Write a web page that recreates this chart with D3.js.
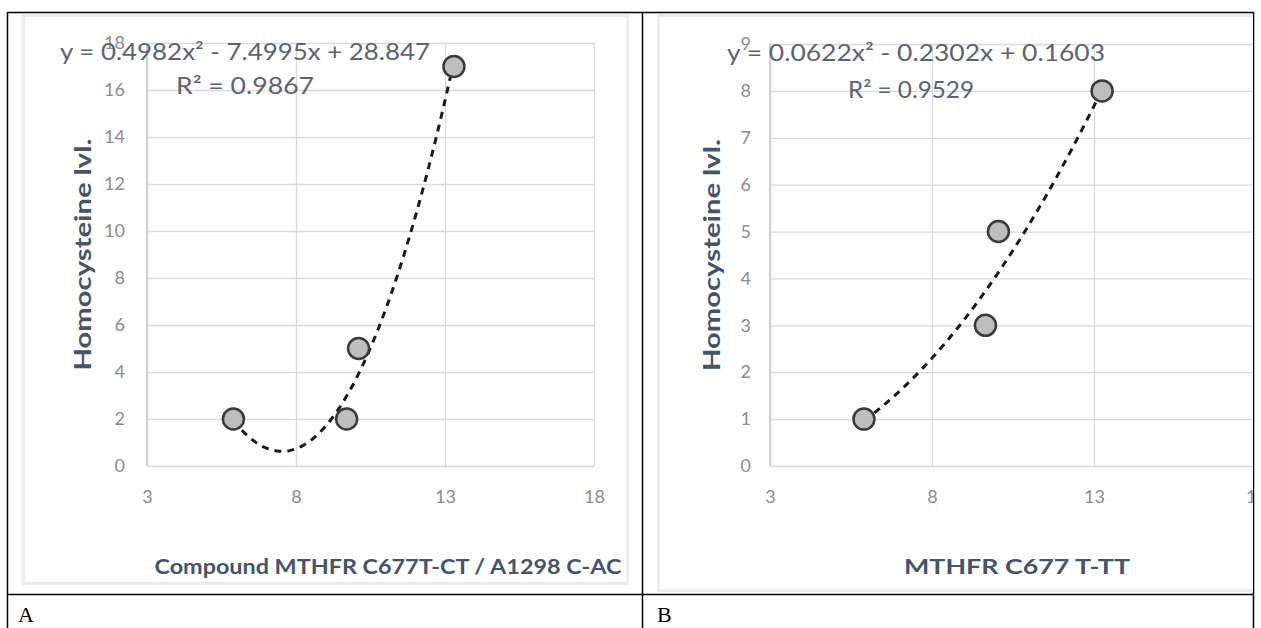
<!DOCTYPE html>
<html>
<head>
<meta charset="utf-8">
<script src="https://cdn.jsdelivr.net/npm/d3@7"></script>
<style>
  body { margin: 0; background: #fff; }
  svg { display: block; }
</style>
</head>
<body>
<svg id="chart" width="1261" height="628"></svg>
<script>
//points
const xA = [5.9, 9.7, 10.1, 13.3];
const yA = [2, 2, 5, 17];
const xB = [5.9, 9.65, 10.05, 13.25];
const yB = [1, 3, 5, 8];
//polynomial trend line coefficients as printed (a, b, c)
const coefA = [0.4982, -7.4995, 28.847];
const coefB = [0.0622, -0.2302, 0.1603];
const r2A = "0.9867";
const r2B = "0.9529";
//tick labels
const xTicks = [3, 8, 13, 18];
const yTicksA = [0, 2, 4, 6, 8, 10, 12, 14, 16, 18];
const yTicksB = [0, 1, 2, 3, 4, 5, 6, 7, 8, 9];
const xTitleA = "Compound MTHFR C677T-CT / A1298 C-AC";
const xTitleB = "MTHFR C677 T-TT";
const yTitle = "Homocysteine lvl.";
const panelLabels = ["A", "B"];

const svg = d3.select("#chart");
const FONT = "Lato, 'Open Sans', sans-serif";

//table frame
const frame = svg.append("g").attr("stroke", "#000").attr("stroke-width", 1.5);
frame.append("line").attr("x1", 7.5).attr("x2", 1253.5).attr("y1", 12.5).attr("y2", 12.5);
frame.append("line").attr("x1", 7.5).attr("x2", 1253.5).attr("y1", 594.5).attr("y2", 594.5);
frame.append("line").attr("x1", 7.5).attr("x2", 7.5).attr("y1", 12).attr("y2", 628);
frame.append("line").attr("x1", 642.5).attr("x2", 642.5).attr("y1", 12).attr("y2", 628);
frame.append("line").attr("x1", 1253.5).attr("x2", 1253.5).attr("y1", 12).attr("y2", 628);

svg.selectAll("text.panel")
    .data(panelLabels)
    .enter()
    .append("text")
    .attr("class", "panel")
    .attr("x", (d, i) => i == 0 ? 18 : 657)
    .attr("y", 622)
    .style("font-family", "'Liberation Serif', 'DejaVu Serif', serif")
    .style("font-size", "22px")
    .style("fill", "#000")
    .text(d => d);

drawPanel({
    id: "A",
    box: [22, 14, 629, 585],
    clipRight: 629,
    xRange: [147, 594],
    yDomain: [0, 18],
    yRange: [466, 43],
    yTicks: yTicksA,
    xs: xA, ys: yA, coef: coefA, r2: r2A,
    yLabelX: 125,
    yTitleX: 83,
    xTitle: xTitleA, xTitleX: 388, xTitleLen: 467,
    eqX: 60, eqY: 52, eqLen: 370,
    r2X: 176, r2Y: 86, r2Len: 138
});

drawPanel({
    id: "B",
    box: [657, 14, 1260, 592],
    clipRight: 1253,
    xRange: [770, 1256],
    yDomain: [0, 9],
    yRange: [466, 44],
    yTicks: yTicksB,
    xs: xB, ys: yB, coef: coefB, r2: r2B,
    yLabelX: 751,
    yTitleX: 712,
    xTitle: xTitleB, xTitleX: 1017, xTitleLen: 226,
    eqX: 727, eqY: 53, eqLen: 378,
    r2X: 848, r2Y: 90, r2Len: 126
});

function fmtEq(c){
    let s = "y = " + c[0] + "x² ";
    s += (c[1] < 0 ? "- " : "+ ") + Math.abs(c[1]) + "x ";
    s += (c[2] < 0 ? "- " : "+ ") + Math.abs(c[2]);
    return s;
}

function drawPanel(p){
    const clipId = "clip" + p.id;
    svg.append("clipPath").attr("id", clipId)
        .append("rect")
        .attr("x", p.box[0]).attr("y", p.box[1])
        .attr("width", p.clipRight - p.box[0]).attr("height", p.box[3] - p.box[1]);

    const g = svg.append("g").attr("clip-path", "url(#" + clipId + ")");

    //chart area background
    g.append("rect")
        .attr("x", p.box[0] + 1.5).attr("y", p.box[1] + 1.5)
        .attr("width", p.box[2] - p.box[0] - 3).attr("height", p.box[3] - p.box[1] - 3)
        .style("fill", "#fff")
        .style("stroke", "#ececec")
        .style("stroke-width", 3);

    const x = d3.scaleLinear().domain([3, 18]).range(p.xRange);
    const y = d3.scaleLinear().domain(p.yDomain).range(p.yRange);
    const w = p.xRange[1] - p.xRange[0];
    const h = p.yRange[0] - p.yRange[1];

    //gridlines + tick labels
    const gy = g.append("g")
        .attr("transform", "translate(" + p.xRange[0] + ",0)")
        .call(d3.axisLeft(y).tickValues(p.yTicks).tickSize(-w).tickPadding(p.xRange[0] - p.yLabelX).tickFormat(d3.format("d")));
    const gx = g.append("g")
        .attr("transform", "translate(0," + p.yRange[0] + ")")
        .call(d3.axisBottom(x).tickValues(xTicks).tickSize(-h).tickPadding(22).tickFormat(d3.format("d")));

    [gx, gy].forEach(ax => {
        ax.select(".domain").remove();
        ax.selectAll("line").style("stroke", "#d9d9d9").style("stroke-width", 1.3);
        ax.selectAll("text")
            .style("font-family", FONT)
            .style("font-size", "18px")
            .style("fill", "#8c8c8c");
    });
    gx.selectAll("text").attr("dy", "0.35em").attr("y", 31);
    //value axis line
    g.append("line")
        .attr("x1", p.xRange[0]).attr("x2", p.xRange[0])
        .attr("y1", p.yRange[1]).attr("y2", p.yRange[0])
        .style("stroke", "#c6c9d2").style("stroke-width", 1.5);

    //axis titles
    g.append("text")
        .attr("transform", "translate(" + (p.yTitleX + 8) + "," + ((p.yRange[0] + p.yRange[1]) / 2 + 116) + ")rotate(-90)")
        .attr("textLength", 232)
        .attr("lengthAdjust", "spacingAndGlyphs")
        .style("font-family", FONT)
        .style("font-weight", "bold")
        .style("font-size", "22px")
        .style("fill", "#44546a")
        .text(yTitle);
    g.append("text")
        .attr("x", p.xTitleX - p.xTitleLen / 2)
        .attr("y", 574)
        .attr("textLength", p.xTitleLen)
        .attr("lengthAdjust", "spacingAndGlyphs")
        .style("font-family", FONT)
        .style("font-weight", "bold")
        .style("font-size", "21px")
        .style("fill", "#44546a")
        .text(p.xTitle);

    //trend line
    const lo = d3.min(p.xs), hi = d3.max(p.xs);
    const curve = d3.range(lo, hi + 0.001, (hi - lo) / 120).map(v => [v, p.coef[0] * v * v + p.coef[1] * v + p.coef[2]]);
    g.append("path")
        .datum(curve)
        .attr("d", d3.line().x(d => x(d[0])).y(d => y(d[1])))
        .style("fill", "none")
        .style("stroke", "#1a1a1a")
        .style("stroke-width", 3)
        .style("stroke-dasharray", "7,6");

    //points
    g.selectAll("circle.pt")
        .data(p.xs.map((v, i) => [v, p.ys[i]]))
        .enter()
        .append("circle")
        .attr("class", "pt")
        .attr("cx", d => x(d[0]))
        .attr("cy", d => y(d[1]))
        .attr("r", 10.5)
        .style("fill", "#bdbdbd")
        .style("stroke", "#3a3a3a")
        .style("stroke-width", 2.5);

    //equation labels
    g.append("text")
        .attr("x", p.eqX).attr("y", p.eqY)
        .attr("dy", "0.35em")
        .attr("textLength", p.eqLen)
        .attr("lengthAdjust", "spacingAndGlyphs")
        .style("font-family", FONT)
        .style("font-size", "23px")
        .style("fill", "#5b6370")
        .text(fmtEq(p.coef));
    g.append("text")
        .attr("x", p.r2X).attr("y", p.r2Y)
        .attr("dy", "0.35em")
        .attr("textLength", p.r2Len)
        .attr("lengthAdjust", "spacingAndGlyphs")
        .style("font-family", FONT)
        .style("font-size", "23px")
        .style("fill", "#5b6370")
        .text("R² = " + p.r2);
}
</script>
</body>
</html>
